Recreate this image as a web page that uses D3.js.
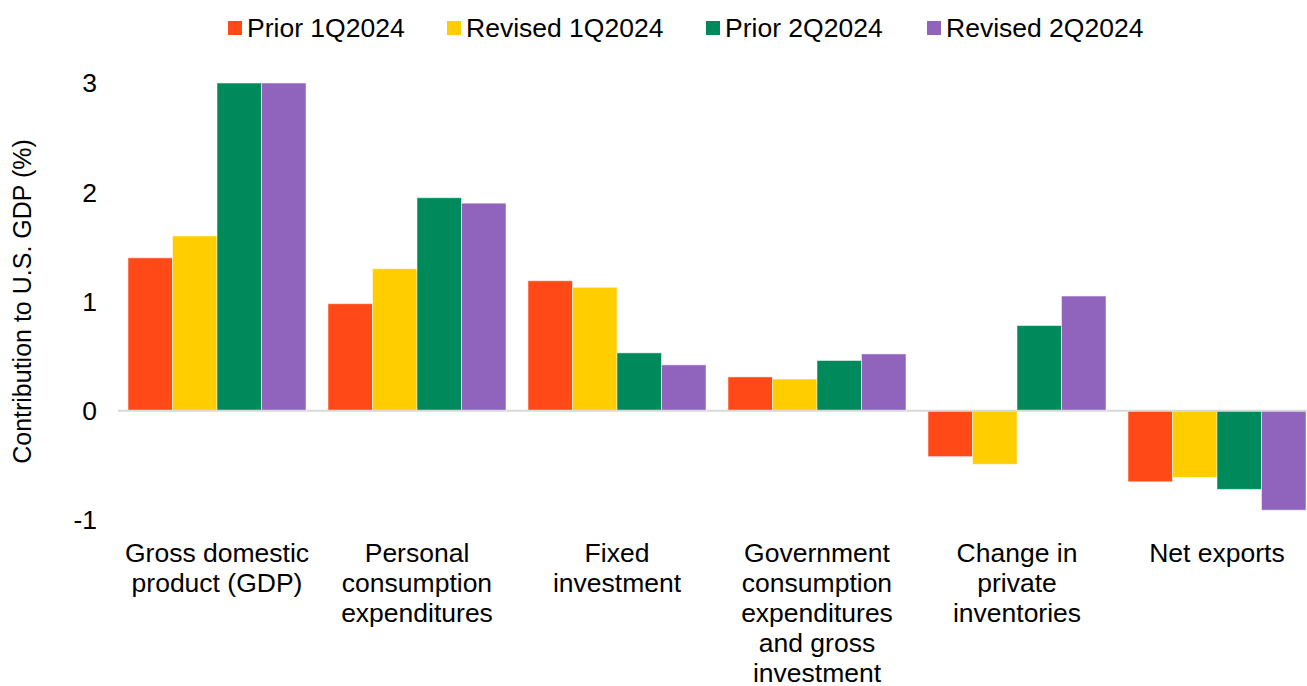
<!DOCTYPE html>
<html>
<head>
<meta charset="utf-8">
<script src="https://cdn.jsdelivr.net/npm/d3@7.9.0/dist/d3.min.js"></script>
<style>
  body { margin: 0; background: #fff; }
  svg { display: block; font-family: "Liberation Sans", Arial, sans-serif; }
</style>
</head>
<body>
<svg width="1307" height="686"></svg>
<script>
const categories = [
    ['Gross domestic', 'product (GDP)'],
    ['Personal', 'consumption', 'expenditures'],
    ['Fixed', 'investment'],
    ['Government', 'consumption', 'expenditures', 'and gross', 'investment'],
    ['Change in', 'private', 'inventories'],
    ['Net exports']
];
const seriesNames = ['Prior 1Q2024', 'Revised 1Q2024', 'Prior 2Q2024', 'Revised 2Q2024'];
const prior1Q = [1.40, 0.98, 1.19, 0.31, -0.42, -0.65];
const revised1Q = [1.60, 1.30, 1.13, 0.29, -0.49, -0.61];
const prior2Q = [3.00, 1.95, 0.53, 0.46, 0.78, -0.72];
const revised2Q = [3.00, 1.90, 0.42, 0.52, 1.05, -0.91];
const yTicks = [-1, 0, 1, 2, 3];

const colors = ['#FF4A17', '#FFCD00', '#008A5C', '#9063BD'];
const series = [prior1Q, revised1Q, prior2Q, revised2Q];

let svg = d3.select('svg');

let x = d3.scaleBand()
    .domain(d3.range(categories.length))
    .range([117, 1317])
    .paddingInner(0.11)
    .paddingOuter(0.055);

let xInner = d3.scaleBand()
    .domain(d3.range(series.length))
    .range([0, x.bandwidth()]);

let y = d3.scaleLinear()
    .domain([-1, 3])
    .range([520, 83]);

// y tick labels
svg.append('g')
    .selectAll('text')
    .data(yTicks)
    .join('text')
    .attr('x', 97)
    .attr('y', (d) => y(d))
    .attr('dy', '0.35em')
    .attr('text-anchor', 'end')
    .attr('font-size', 26.5)
    .attr('fill', '#000')
    .text((d) => d);

// y axis title
svg.append('text')
    .attr('transform', `translate(31, ${y(1)}) rotate(-90)`)
    .attr('text-anchor', 'middle')
    .attr('font-size', 25)
    .attr('fill', '#000')
    .text('Contribution to U.S. GDP (%)');

// bars
series.forEach((values, s) => {
    svg.append('g')
        .selectAll('rect')
        .data(values)
        .join('rect')
        .attr('x', (d, i) => x(i) + xInner(s))
        .attr('width', xInner.bandwidth())
        .attr('y', (d) => y(Math.max(0, d)))
        .attr('height', (d) => Math.abs(y(d) - y(0)))
        .attr('fill', colors[s])
        .attr('stroke', '#fff')
        .attr('stroke-opacity', 0.5)
        .attr('stroke-width', 1);
});

// zero line
svg.append('line')
    .attr('x1', 118)
    .attr('x2', 1307)
    .attr('y1', y(0))
    .attr('y2', y(0))
    .attr('stroke', '#d9d9d9')
    .attr('stroke-width', 2);

// category labels
categories.forEach((lines, i) => {
    let t = svg.append('text')
        .attr('text-anchor', 'middle')
        .attr('font-size', 26.5)
        .attr('fill', '#000');
    lines.forEach((line, j) => {
        t.append('tspan')
            .attr('x', x(i) + x.bandwidth() / 2)
            .attr('y', 562 + j * 30)
            .text(line);
    });
});

// legend
let legendX = [228, 447, 706, 927];
seriesNames.forEach((name, s) => {
    let g = svg.append('g').attr('transform', `translate(${legendX[s]}, 28)`);
    g.append('rect')
        .attr('x', 0)
        .attr('y', -7)
        .attr('width', 14)
        .attr('height', 14)
        .attr('fill', colors[s]);
    g.append('text')
        .attr('x', 19)
        .attr('dy', '0.35em')
        .attr('font-size', 26.5)
        .attr('fill', '#000')
        .text(name);
});
</script>
</body>
</html>
